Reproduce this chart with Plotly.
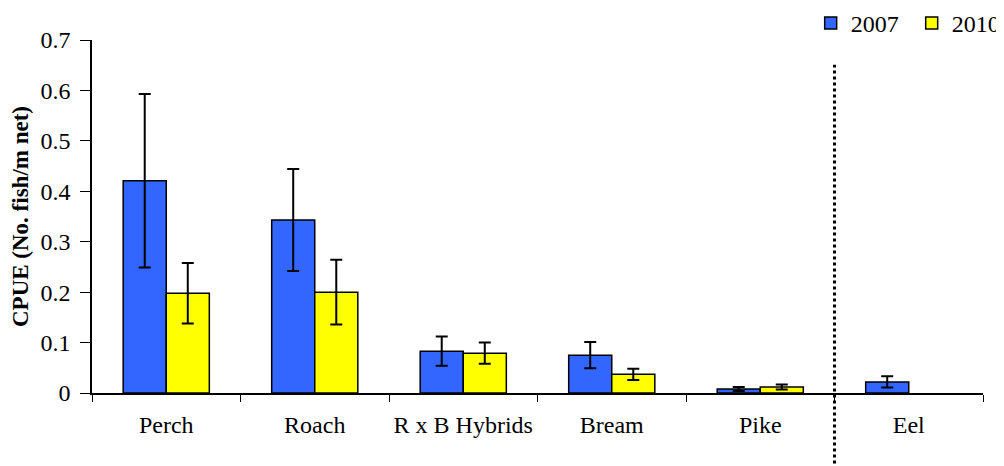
import plotly.graph_objects as go

categories = ["Perch", "Roach", "R x B Hybrids", "Bream", "Pike", "Eel"]
vals_2007 = [0.421, 0.343, 0.083, 0.075, 0.008, 0.022]
err_2007 = [0.172, 0.101, 0.029, 0.026, 0.004, 0.011]
vals_2010 = [0.198, 0.200, 0.079, 0.037, 0.012, None]
err_2010 = [0.060, 0.064, 0.021, 0.011, 0.005, None]
y_ticks = [0, 0.1, 0.2, 0.3, 0.4, 0.5, 0.6, 0.7]
y_tick_labels = ["0", "0.1", "0.2", "0.3", "0.4", "0.5", "0.6", "0.7"]

FONT = "'Times New Roman', 'Liberation Serif', 'DejaVu Serif', serif"

fig = go.Figure()
fig.add_trace(go.Bar(
    name="2007", x=categories, y=vals_2007,
    marker=dict(color="#3366FF", line=dict(color="black", width=1.5)),
    error_y=dict(type="data", array=err_2007, color="black", thickness=2, width=6),
))
fig.add_trace(go.Bar(
    name="2010", x=categories, y=vals_2010,
    marker=dict(color="#FFFF00", line=dict(color="black", width=1.5)),
    error_y=dict(type="data", array=err_2010, color="black", thickness=2, width=6),
))

fig.add_shape(type="line", xref="x", yref="paper", x0=4.5, x1=4.5, y0=-0.2, y1=0.93,
              line=dict(color="black", width=3, dash="dot"))

fig.update_layout(
    width=996, height=458,
    margin=dict(l=84, r=21, t=32, b=73, autoexpand=False),
    paper_bgcolor="white", plot_bgcolor="white",
    barmode="group", bargap=0.42, bargroupgap=0,
    font=dict(family=FONT, size=24, color="black"),
    showlegend=True,
    legend=dict(orientation="h", x=0.8066, xanchor="left", y=1.047, yanchor="middle",
                font=dict(family=FONT, size=24, color="black"),
                itemwidth=30, entrywidth=56, traceorder="normal"),
    xaxis=dict(
        type="category", showline=True, linecolor="black", linewidth=1.5,
        ticks="outside", tickson="boundaries", ticklen=7, tickcolor="black",
        ticklabelstandoff=9,
        tickfont=dict(family=FONT, size=24), showgrid=False, range=[-0.5, 5.5],
    ),
    yaxis=dict(
        range=[0, 0.7], tickvals=y_ticks, ticktext=y_tick_labels,
        showline=True, linecolor="black", linewidth=1.5,
        ticks="outside", ticklen=10, tickcolor="black", showgrid=False, zeroline=False,
        ticklabelstandoff=5,
        tickfont=dict(family=FONT, size=24),
        title=dict(text="<b>CPUE (No. fish/m net)</b>", font=dict(family=FONT, size=23), standoff=10),
    ),
)

fig.write_html("out.html")
